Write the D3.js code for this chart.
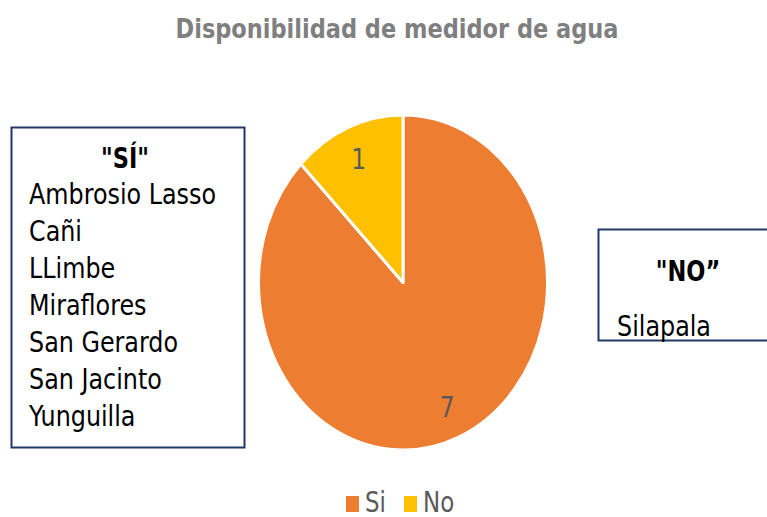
<!DOCTYPE html>
<html>
<head>
<meta charset="utf-8">
<script src="https://cdn.jsdelivr.net/npm/d3@7"></script>
<style>
  body { margin: 0; background: #fff; }
  svg { font-family: "DejaVu Sans Condensed", "DejaVu Sans", sans-serif; }
</style>
</head>
<body>
<div id="chart"></div>
<script>
// data
var categories = ["Si", "No"];
var values = [7, 1];
var colors = ["#ED7D31", "#FFC000"];
var siList = ["Ambrosio Lasso", "Cañi", "LLimbe", "Miraflores", "San Gerardo", "San Jacinto", "Yunguilla"];
var noList = ["Silapala"];

var width = 767, height = 517;

var svg = d3.select("#chart")
  .append("svg")
  .attr("width", width)
  .attr("height", height);

// title
svg.append("text")
  .attr("transform", "translate(397,38) scale(1,1.08)")
  .attr("text-anchor", "middle")
  .style("font-size", "25px")
  .style("font-weight", "bold")
  .style("fill", "#7F7F7F")
  .text("Disponibilidad de medidor de agua");

// pie (elliptical, stretched vertically like the original)
var cx = 403, cy = 282.5, rx = 144.5, ry = 167.5;
var pie = d3.pie().sort(null).value(function (d) { return d.value; });
var arcs = pie(categories.map(function (c, i) { return { key: c, value: values[i] }; }));
var arc = d3.arc().innerRadius(0).outerRadius(ry);

var g = svg.append("g")
  .attr("transform", "translate(" + cx + "," + cy + ") scale(" + (rx / ry) + ",1)");

g.selectAll("path")
  .data(arcs)
  .enter()
  .append("path")
  .attr("d", arc)
  .attr("fill", function (d, i) { return colors[i]; })
  .attr("stroke", "#fff")
  .attr("stroke-width", 3)
  .attr("vector-effect", "non-scaling-stroke")
  .attr("stroke-linejoin", "round");

// value labels
var labelArc = d3.arc().innerRadius(ry * 0.8).outerRadius(ry * 0.8);
g.selectAll(".val")
  .data(arcs)
  .enter()
  .append("text")
  .attr("transform", function (d) {
    var p = labelArc.centroid(d);
    return "translate(" + p[0] + "," + p[1] + ") scale(" + (ry / rx) + ",1.1)";
  })
  .attr("text-anchor", "middle")
  .attr("dy", "0.36em")
  .style("font-size", "26px")
  .style("fill", "#595959")
  .text(function (d) { return d.value; });

// "SÍ" box
svg.append("rect")
  .attr("x", 11.5).attr("y", 127.5)
  .attr("width", 233).attr("height", 320)
  .attr("fill", "#fff")
  .attr("stroke", "#1F3864")
  .attr("stroke-width", 2);
svg.append("text")
  .attr("transform", "translate(125,168) scale(1,1.1)")
  .attr("text-anchor", "middle")
  .style("font-size", "25px")
  .style("font-weight", "bold")
  .text("\"SÍ\"");
svg.selectAll(".si")
  .data(siList)
  .enter()
  .append("text")
  .attr("transform", function (d, i) { return "translate(29," + (204 + i * 37) + ") scale(1,1.08)"; })
  .style("font-size", "26.5px")
  .style("fill", "#000")
  .text(function (d) { return d; });

// "NO" box
svg.append("rect")
  .attr("x", 598.5).attr("y", 229.5)
  .attr("width", 180).attr("height", 111)
  .attr("fill", "#fff")
  .attr("stroke", "#1F3864")
  .attr("stroke-width", 2);
svg.append("text")
  .attr("transform", "translate(688,281) scale(1,1.1)")
  .attr("text-anchor", "middle")
  .style("font-size", "25px")
  .style("font-weight", "bold")
  .text("\"NO\u201D");
svg.selectAll(".no")
  .data(noList)
  .enter()
  .append("text")
  .attr("transform", function (d, i) { return "translate(617," + (336 + i * 37) + ") scale(1,1.08)"; })
  .style("font-size", "26.5px")
  .text(function (d) { return d; });

// legend
var legendX = [346, 404];
var legend = svg.selectAll(".legend")
  .data(categories)
  .enter()
  .append("g")
  .attr("transform", function (d, i) { return "translate(" + legendX[i] + ",496)"; });
legend.append("rect")
  .attr("width", 13).attr("height", 16)
  .attr("fill", function (d, i) { return colors[i]; });
legend.append("text")
  .attr("transform", "translate(19,15.5) scale(1,1.1)")
  .style("font-size", "25.5px")
  .style("fill", "#595959")
  .text(function (d) { return d; });
</script>
</body>
</html>
